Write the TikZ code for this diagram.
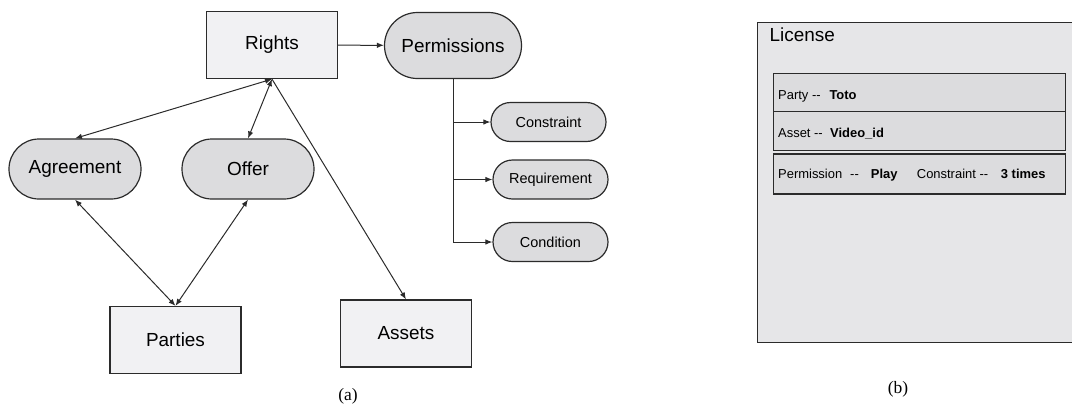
\documentclass[tikz,border=0pt]{standalone}
\usepackage{fontspec}
\setmainfont{Liberation Sans}
\newfontfamily\capfont{Liberation Serif}
\usetikzlibrary{arrows.meta}
\definecolor{boxfill}{HTML}{F1F1F3}
\definecolor{pillfill}{HTML}{DCDCDE}
\definecolor{licfill}{HTML}{E6E6E8}
\definecolor{edge}{HTML}{2B2B2B}
\tikzset{
  box/.style={draw=edge, line width=1.2bp, fill=boxfill, inner sep=0pt, minimum width=131bp, minimum height=67bp, font=\fontsize{19}{22}\selectfont},
  pill/.style={draw=edge, line width=1.2bp, fill=pillfill, inner sep=0pt, rounded corners=30bp, minimum width=132bp, minimum height=60bp, font=\fontsize{19}{22}\selectfont},
  minipill/.style={pill, rounded corners=19.5bp, minimum width=115bp, minimum height=39bp, font=\fontsize{14.5}{17}\selectfont},
  row/.style={draw=edge, line width=1.2bp, fill=pillfill, inner sep=0pt, anchor=north west, minimum width=292bp},
  rowtext/.style={anchor=base west, inner sep=0pt, font=\fontsize{13}{15}\selectfont},
  link/.style={draw=edge, line width=1bp, ->},
  dlink/.style={draw=edge, line width=1bp, <->}
}
\begin{document}
\begin{tikzpicture}[x=1bp,y=-1bp,>={Latex[length=7bp,width=5.5bp]}]
\clip (0,0) rectangle (1072,405);
% (a) rights model
\node (Rights) [box] at (272,45) {Rights};
\node (Permissions) [pill, rounded corners=33bp, minimum width=137bp, minimum height=66bp] at (453,45.5) {Permissions};
\node (Agreement) [pill] at (75,169) {Agreement};
\node (Offer) [pill] at (248,169) {Offer};
\node (Constraint) [minipill] at (548.5,122) {Constraint};
\node (Requirement) [minipill] at (550.5,179.5) {Requirement};
\node (Condition) [minipill] at (550.5,242) {Condition};
\node (Parties) [box] at (175.5,340) {Parties};
\node (Assets) [box] at (406,333.5) {Assets};
\draw[link] (Rights) -- (Permissions);
\draw[dlink] (Rights.south) -- (Agreement.north);
\draw[dlink] (Rights.south) -- (Offer.north);
\draw[link] (Rights.south) -- (Assets.north);
\draw[dlink] (Agreement.south) -- (Parties.north);
\draw[dlink] (Offer.south) -- (Parties.north);
\draw[link] (Permissions.south) |- (Constraint.west);
\draw[link] (Permissions.south) |- (Requirement.west);
\draw[link] (Permissions.south) |- (Condition.west);
\node (capA) [font=\capfont\fontsize{17.5}{20}\selectfont] at (348,396) {(a)};
% (b) license
\node (License) [draw=edge, line width=1.2bp, fill=licfill, inner sep=0pt, anchor=north west, minimum width=320bp, minimum height=320bp] at (757,21.7) {};
\node (licname) [anchor=base west, inner sep=0pt, font=\fontsize{19}{22}\selectfont] at (769.5,41.5) {License};
\node (partyrow) [row, minimum height=38.3bp] at (772.7,72.7) {};
\node (assetrow) [row, minimum height=39bp] at (772.7,111) {};
\node (permrow) [row, minimum height=40bp] at (772.7,153.3) {};
\node [rowtext] at (778,99.3) {Party -{}-};
\node [rowtext] at (829.3,99.3) {\textbf{Toto}};
\node [rowtext] at (778,137.7) {Asset -{}-};
\node [rowtext] at (830,137.7) {\textbf{Video\_id}};
\node [rowtext] at (778,178.3) {Permission};
\node [rowtext] at (850,178.3) {-{}-};
\node [rowtext] at (870.7,178.3) {\textbf{Play}};
\node [rowtext] at (916.7,178.3) {Constraint -{}-};
\node [rowtext] at (1000.7,178.3) {\textbf{3 times}};
\node (capB) [font=\capfont\fontsize{17.5}{20}\selectfont] at (898,389) {(b)};
\end{tikzpicture}
\end{document}
